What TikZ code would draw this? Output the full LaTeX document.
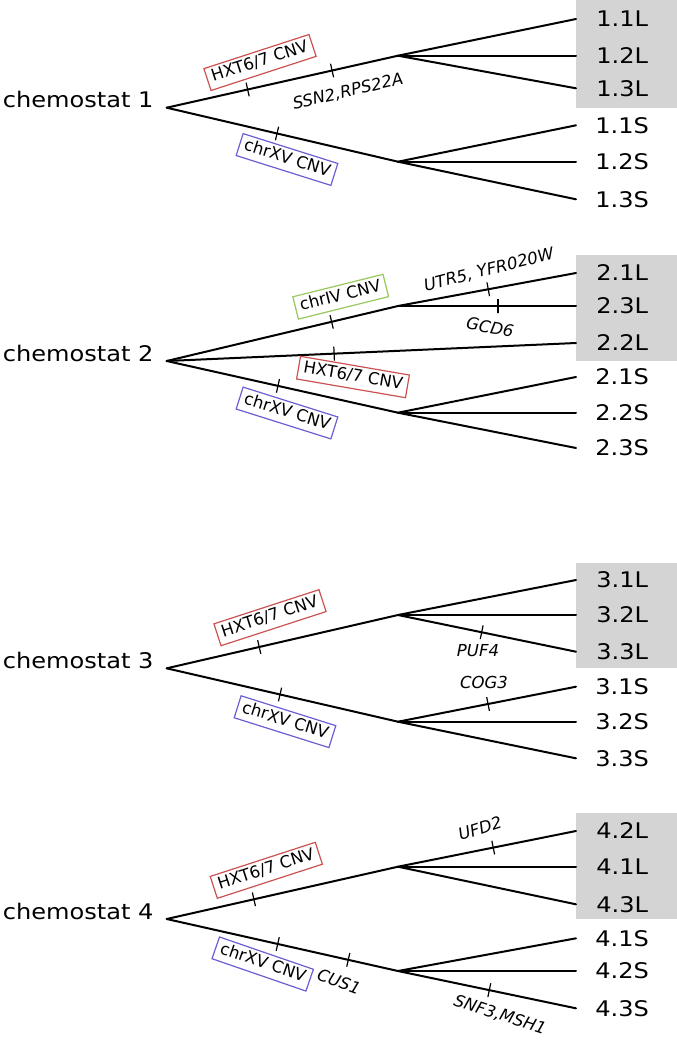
\documentclass[tikz,border=0pt]{standalone}
\usepackage{fontspec}
\setmainfont{DejaVu Sans}
\newfontfamily\widefont[FakeStretch=1.12]{DejaVu Sans}
\definecolor{boxred}{RGB}{204,82,82}
\definecolor{boxgreen}{RGB}{150,200,90}
\definecolor{boxblue}{RGB}{105,95,210}
\definecolor{bandgray}{RGB}{212,212,212}
\begin{document}
\begin{tikzpicture}[x=1pt,y=-1pt,
  branch/.style={line width=2pt,line cap=round},
  tmark/.style={draw,line width=1.2pt,minimum height=14pt,minimum width=0pt,inner sep=0pt},
  leaf/.style={anchor=west,font=\widefont\fontsize{21.5}{26}\selectfont,text height=15.5pt,text depth=0pt,inner sep=0pt,minimum width=92pt,align=center},
  chem/.style={anchor=base east,font=\widefont\fontsize{21.5}{26}\selectfont,inner sep=0pt},
  cnv/.style={draw,line width=1.2pt,font=\fontsize{16.5}{18}\selectfont,inner xsep=5pt,inner ysep=3.5pt,text height=12pt,text depth=4pt},
  red/.style={cnv,draw=boxred},
  green/.style={cnv,draw=boxgreen},
  blue/.style={cnv,draw=boxblue},
  gene/.style={font=\fontsize{16.5}{18}\selectfont\itshape,inner sep=1pt}
]
\useasboundingbox (0,0) rectangle (677,1042);

% shaded bands
\fill[bandgray] (576,0) rectangle (677,107.7);
\fill[bandgray] (576,255) rectangle (677,361);
\fill[bandgray] (576,563) rectangle (677,668);
\fill[bandgray] (576,813) rectangle (677,919);

% ---------------- chemostat 1
\coordinate (R1) at (166.7,107.7);
\coordinate (U1) at (398,55.7);
\coordinate (L1) at (398,161.7);
\node[chem] (c1) at ([xshift=-13pt]R1) {chemostat 1};
\node[leaf] (l11L) at (576,19) {1.1L};
\node[leaf] (l12L) at (576,55.7) {1.2L};
\node[leaf] (l13L) at (576,88.3) {1.3L};
\node[leaf] (l11S) at (576,125.3) {1.1S};
\node[leaf] (l12S) at (576,161.7) {1.2S};
\node[leaf] (l13S) at (576,199.3) {1.3S};
\draw[branch] (R1) -- node[tmark,sloped,pos=.35] (t1a) {} node[tmark,sloped,pos=.715] (t1b) {} (U1);
\draw[branch] (R1) -- node[tmark,sloped,pos=.477] (t1c) {} (L1);
\draw[branch] (U1) -- (l11L.west);
\draw[branch] (U1) -- (l12L.west);
\draw[branch] (U1) -- (l13L.west);
\draw[branch] (L1) -- (l11S.west);
\draw[branch] (L1) -- (l12S.west);
\draw[branch] (L1) -- (l13S.west);
\node[red,rotate=18] (b1a) at (260,62.5) {HXT6/7 CNV};
\node[gene,rotate=13] (g1a) at (348,91.7) {SSN2,RPS22A};
\node[blue,rotate=-17.5] (b1b) at (287,159.5) {chrXV CNV};

% ---------------- chemostat 2
\coordinate (R2) at (166.7,361);
\coordinate (U2) at (398,306);
\coordinate (L2) at (398,412.7);
\node[chem] (c2) at ([xshift=-13pt]R2) {chemostat 2};
\node[leaf] (l21L) at (576,273) {2.1L};
\node[leaf] (l23L) at (576,306) {2.3L};
\node[leaf] (l22L) at (576,343) {2.2L};
\node[leaf] (l21S) at (576,377) {2.1S};
\node[leaf] (l22S) at (576,412.7) {2.2S};
\node[leaf] (l23S) at (576,448) {2.3S};
\draw[branch] (R2) -- node[tmark,sloped,pos=.713] (t2a) {} (U2);
\draw[branch] (R2) -- node[tmark,sloped,pos=.409] (t2b) {} (l22L.west);
\draw[branch] (R2) -- node[tmark,sloped,pos=.481] (t2c) {} (L2);
\draw[branch] (U2) -- node[tmark,sloped,pos=.507] (t2d) {} (l21L.west);
\draw[branch] (U2) -- node[tmark,sloped,pos=.562] (t2e) {} (l23L.west);
\draw[branch] (L2) -- (l21S.west);
\draw[branch] (L2) -- (l22S.west);
\draw[branch] (L2) -- (l23S.west);
\node[green,rotate=14] (b2a) at (340.7,296.7) {chrIV CNV};
\node[red,rotate=-9.75] (b2b) at (353,377) {HXT6/7 CNV};
\node[blue,rotate=-17.5] (b2c) at (287,413) {chrXV CNV};
\node[gene,rotate=14] (g2a) at (489,270) {UTR5, YFR020W};
\node[gene,rotate=-10] (g2b) at (490,327) {GCD6};

% ---------------- chemostat 3
\coordinate (R3) at (166.7,668.3);
\coordinate (U3) at (398,615);
\coordinate (L3) at (398,721.7);
\node[chem] (c3) at ([xshift=-13pt]R3) {chemostat 3};
\node[leaf] (l31L) at (576,580) {3.1L};
\node[leaf] (l32L) at (576,615) {3.2L};
\node[leaf] (l33L) at (576,651.7) {3.3L};
\node[leaf] (l31S) at (576,686.7) {3.1S};
\node[leaf] (l32S) at (576,721.7) {3.2S};
\node[leaf] (l33S) at (576,758.3) {3.3S};
\draw[branch] (R3) -- node[tmark,sloped,pos=.40] (t3a) {} (U3);
\draw[branch] (R3) -- node[tmark,sloped,pos=.49] (t3b) {} (L3);
\draw[branch] (U3) -- (l31L.west);
\draw[branch] (U3) -- (l32L.west);
\draw[branch] (U3) -- node[tmark,sloped,pos=.47] (t3c) {} (l33L.west);
\draw[branch] (L3) -- node[tmark,sloped,pos=.506] (t3d) {} (l31S.west);
\draw[branch] (L3) -- (l32S.west);
\draw[branch] (L3) -- (l33S.west);
\node[red,rotate=18] (b3a) at (270,617.7) {HXT6/7 CNV};
\node[blue,rotate=-17.5] (b3b) at (285,721.7) {chrXV CNV};
\node[gene] (g3a) at (478,650.7) {PUF4};
\node[gene] (g3b) at (484,682.7) {COG3};

% ---------------- chemostat 4
\coordinate (R4) at (166.7,919);
\coordinate (U4) at (398,866.7);
\coordinate (L4) at (398,971);
\node[chem] (c4) at ([xshift=-13pt]R4) {chemostat 4};
\node[leaf] (l42L) at (576,831) {4.2L};
\node[leaf] (l41L) at (576,866.7) {4.1L};
\node[leaf] (l43L) at (576,904.3) {4.3L};
\node[leaf] (l41S) at (576,938.3) {4.1S};
\node[leaf] (l42S) at (576,971) {4.2S};
\node[leaf] (l43S) at (576,1008.3) {4.3S};
\draw[branch] (R4) -- node[tmark,sloped,pos=.377] (t4a) {} (U4);
\draw[branch] (R4) -- node[tmark,sloped,pos=.48] (t4b) {} node[tmark,sloped,pos=.785] (t4c) {} (L4);
\draw[branch] (U4) -- node[tmark,sloped,pos=.535] (t4d) {} (l42L.west);
\draw[branch] (U4) -- (l41L.west);
\draw[branch] (U4) -- (l43L.west);
\draw[branch] (L4) -- (l41S.west);
\draw[branch] (L4) -- (l42S.west);
\draw[branch] (L4) -- node[tmark,sloped,pos=.513] (t4e) {} (l43S.west);
\node[red,rotate=18] (b4a) at (266.3,870.3) {HXT6/7 CNV};
\node[blue,rotate=-19] (b4b) at (262.7,964) {chrXV CNV};
\node[gene,rotate=-20] (g4a) at (339,981.7) {CUS1};
\node[gene,rotate=18] (g4b) at (480,828.3) {UFD2};
\node[gene,rotate=-18] (g4c) at (500,1015) {SNF3,MSH1};
\end{tikzpicture}
\end{document}
